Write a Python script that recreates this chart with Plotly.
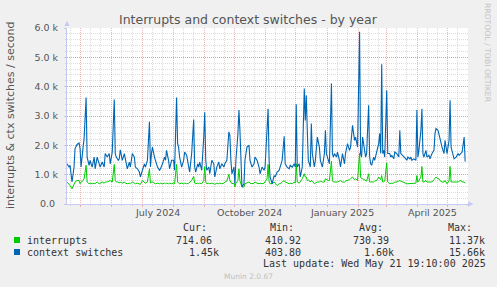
import pandas as pd
import plotly.graph_objects as go

W, H = 497, 287
ML, MR, MT, MB = 67, 29, 28, 83

# ---------------- data (values in thousands per second) ----------------
day_offsets = [
    0, 2, 3, 5, 7, 8, 10, 12, 13, 14, 16, 17, 19, 20, 22, 23, 25, 27, 28, 30,
    32, 33, 35, 37, 38, 40, 42, 43, 45, 47, 48, 49, 51, 52, 53, 55, 57, 58, 60, 62,
    63, 65, 67, 68, 70, 72, 73, 75, 77, 78, 80, 82, 83, 84, 85, 87, 88, 90, 92, 93,
    95, 97, 98,
    99, 101, 102, 104, 106, 107, 109, 110, 111, 112, 114, 116, 117, 119, 121, 122, 124, 126, 127, 128,
    130, 131, 132, 134, 136, 137, 138, 139, 141, 142, 144, 146, 147, 149, 151, 152, 154, 156, 157, 159,
    161, 162, 163, 164, 166, 167, 168, 170, 171, 172, 174, 176, 177, 179, 181, 182, 184, 186, 187, 189,
    191, 192, 194, 196, 197, 199, 200, 201, 202, 204, 206, 207, 209, 211, 212, 214, 216, 217, 219, 221,
    222, 224, 226, 227, 228, 229, 231, 232, 234, 236, 237, 238, 239, 240, 242, 243, 244, 246, 247, 249,
    251, 252, 254, 256, 257, 258, 260, 261, 263, 264, 265, 266, 268, 269, 271, 272, 274, 276, 277, 279,
    281, 282, 284, 286, 287, 289, 291, 292, 293, 294, 296, 297,
    298, 300, 301, 302, 303, 305, 306, 308, 310, 311, 312, 313, 314, 315, 316, 318, 319, 321, 322, 323,
    325, 326, 328, 330, 331, 332, 334, 335, 337, 338, 339, 341, 342, 343, 345, 347, 348, 349, 350, 352,
    353, 354, 355, 357, 358, 360, 361, 363, 365, 366, 367, 369, 370, 371, 373, 375, 376, 378, 380, 381,
    382, 384, 385, 387, 389, 390, 392, 393, 395, 396,
]

context_switches_k = [
    1.37, 1.26, 1.32, 0.75, 1.26, 1.89, 2.03, 2.08, 1.89, 1.26, 1.94, 2.23, 3.63, 1.60, 1.32, 1.49, 1.26, 1.60, 1.20, 1.60,
    1.37, 1.26, 1.43, 1.26, 1.72, 1.60, 1.72, 1.37, 1.77, 3.56, 1.72, 1.60, 1.49, 1.54, 1.85, 1.49, 1.72, 1.49, 1.20, 1.43,
    1.26, 1.72, 1.60, 1.26, 1.20, 1.09, 0.92, 1.15, 1.37, 1.26, 1.49, 2.80, 1.26, 1.72, 1.94, 1.60, 1.49, 1.26, 1.15, 1.20,
    1.37, 1.60, 1.49,
    1.83, 1.49, 1.20, 1.49, 1.49, 1.15, 3.63, 2.06, 1.94, 1.60, 1.26, 1.49, 1.77, 1.66, 1.20, 1.09, 1.72, 2.88, 1.26, 1.09,
    1.37, 1.26, 1.43, 1.15, 2.28, 3.13, 1.49, 1.15, 1.26, 1.03, 1.49, 1.37, 0.92, 1.26, 1.43, 1.20, 1.37, 1.26, 1.37, 1.49,
    2.46, 2.34, 1.49, 1.03, 1.26, 0.69, 1.49, 2.40, 3.20, 2.51, 0.58, 0.69, 1.49, 1.94, 2.00, 1.49, 1.26, 1.37, 1.60, 1.49,
    1.26, 1.03, 1.26, 1.15, 1.26, 2.34, 3.25, 1.49, 0.92, 0.69, 0.97, 0.92, 1.09, 1.15, 1.26, 1.49, 2.31, 1.37, 1.26, 1.20,
    1.32, 1.26, 1.37, 1.26, 3.40, 1.26, 1.37, 0.92, 1.26, 3.94, 2.85, 3.71, 2.51, 1.49, 1.26, 2.74, 1.72, 1.26, 1.49, 2.28,
    1.94, 1.49, 1.26, 1.72, 2.51, 1.72, 1.49, 1.37, 4.11, 1.72, 1.60, 1.72, 1.60, 1.77, 1.49, 1.26, 1.72, 1.37, 1.72, 2.06,
    1.83, 1.94, 2.68, 2.17, 2.28, 1.94, 5.87, 1.72, 1.60, 2.28, 1.83, 1.60,
    1.72, 3.37, 1.60, 1.37, 1.32, 1.60, 1.49, 1.83, 2.06, 2.40, 1.72, 4.76, 1.72, 1.83, 1.60, 3.88, 1.72, 1.72, 1.60, 1.66,
    1.54, 1.77, 1.72, 1.60, 2.51, 1.72, 1.66, 1.60, 1.54, 1.49, 1.60, 1.54, 1.60, 1.49, 1.54, 1.49, 3.20, 1.60, 1.83, 2.51,
    3.25, 1.72, 1.60, 1.83, 1.60, 1.66, 1.54, 1.72, 1.83, 2.40, 2.57, 2.51, 2.40, 2.23, 1.94, 1.72, 2.17, 1.72, 2.17, 3.54,
    1.94, 1.60, 1.54, 1.60, 1.72, 1.66, 1.72, 1.77, 2.28, 1.45,
]

interrupts_k = [
    0.75, 0.69, 0.63, 0.52, 0.69, 0.75, 0.80, 0.80, 0.69, 0.75, 0.80, 0.86, 1.32, 0.75, 0.69, 0.71, 0.69, 0.71, 0.69, 0.75,
    0.69, 0.71, 0.75, 0.71, 0.75, 0.75, 0.78, 0.80, 0.75, 1.35, 0.80, 0.75, 0.75, 0.71, 0.75, 0.71, 0.75, 0.71, 0.69, 0.71,
    0.69, 0.75, 0.71, 0.69, 0.71, 0.69, 0.67, 0.80, 0.75, 0.71, 0.75, 1.20, 0.71, 0.75, 0.75, 0.71, 0.69, 0.71, 0.69, 0.71,
    0.69, 0.71, 0.69,
    0.71, 0.69, 0.71, 0.69, 0.71, 0.69, 1.35, 0.75, 0.71, 0.69, 0.71, 0.69, 0.71, 0.69, 0.71, 0.75, 0.80, 0.94, 0.71, 0.69,
    0.71, 0.69, 0.71, 0.69, 0.80, 1.28, 0.75, 0.69, 0.71, 0.69, 0.71, 0.69, 0.67, 0.71, 0.69, 0.71, 0.69, 0.71, 0.75, 0.78,
    1.01, 0.80, 0.71, 0.69, 0.71, 0.58, 0.71, 0.80, 1.20, 0.80, 0.58, 0.58, 0.69, 0.71, 0.75, 0.71, 0.69, 0.71, 0.75, 0.71,
    0.69, 0.71, 0.69, 0.71, 0.75, 0.86, 1.35, 0.75, 0.69, 0.69, 0.75, 0.71, 0.63, 0.69, 0.69, 0.75, 0.80, 0.75, 0.71, 0.69,
    0.71, 0.69, 0.75, 0.71, 1.37, 0.75, 0.71, 0.75, 0.86, 1.03, 0.92, 0.92, 0.80, 0.83, 0.75, 0.80, 0.78, 0.69, 0.71, 0.75,
    0.75, 0.78, 0.75, 0.75, 0.86, 0.83, 0.80, 0.80, 1.46, 0.80, 0.75, 0.75, 0.75, 0.75, 0.78, 0.80, 0.75, 0.75, 0.78, 0.80,
    0.83, 0.86, 0.92, 0.83, 0.86, 0.80, 1.74, 0.92, 0.86, 0.86, 0.83, 0.80,
    0.78, 1.03, 0.75, 0.75, 0.75, 0.75, 0.78, 0.80, 0.92, 0.86, 0.83, 0.97, 0.75, 0.75, 0.78, 1.40, 0.75, 0.69, 0.71, 0.71,
    0.71, 0.75, 0.75, 0.78, 0.80, 0.78, 0.75, 0.71, 0.69, 0.69, 0.69, 0.69, 0.69, 0.69, 0.71, 0.71, 0.97, 0.75, 0.80, 0.92,
    1.28, 0.75, 0.75, 0.80, 0.75, 0.75, 0.75, 0.75, 0.83, 0.89, 0.92, 0.86, 0.86, 0.80, 0.75, 0.75, 0.80, 0.69, 0.80, 1.28,
    0.75, 0.75, 0.75, 0.75, 0.75, 0.78, 0.80, 0.75, 0.75, 0.71,
]

series_names = ["interrupts", "context switches"]
series_colors = ["#00CC00", "#0066B3"]
cur_vals = ["714.06", "1.45k"]
min_vals = ["410.92", "403.80"]
avg_vals = ["730.39", "1.60k"]
max_vals = ["11.37k", "15.66k"]

y_tickvals = [0, 1, 2, 3, 4, 5, 6]
y_ticktext = ["0.0\u00a0", "1.0 k", "2.0 k", "3.0 k", "4.0 k", "5.0 k", "6.0 k"]
month_label_dates = ["2024-07-16", "2024-10-16", "2025-01-16", "2025-04-16"]
month_label_text = ["July 2024", "October 2024", "January 2025", "April 2025"]

BASE = pd.Timestamp("2024-04-17 08:00")
END = pd.Timestamp("2025-05-21 04:00")
dates = BASE + pd.to_timedelta(day_offsets, unit="D")
month_starts = pd.date_range("2024-05-01", "2025-05-01", freq="MS")
minor_dates = []
for m in pd.date_range("2024-04-01", "2025-05-01", freq="MS"):
    for d in (10, 20):
        t = m + pd.Timedelta(days=d)
        if BASE < t < END:
            minor_dates.append(t)

# ---------------- helpers: pixel -> paper ----------------
PW = W - ML - MR
PH = H - MT - MB


def fx(px):
    return (px - ML) / PW


def fy(py):
    return (H - MB - py) / PH


MGRID = "rgba(224,80,80,0.42)"
GRID = "rgba(150,150,150,0.32)"
AXIS = "#C8C8F4"
TXT = "#555555"
SANS = "DejaVu Sans"
MONO = "DejaVu Sans Mono"

fig = go.Figure()
fig.add_trace(go.Scatter(x=dates, y=interrupts_k, mode="lines", name=series_names[0],
                         line=dict(color=series_colors[0], width=1), hoverinfo="skip"))
fig.add_trace(go.Scatter(x=dates, y=context_switches_k, mode="lines", name=series_names[1],
                         line=dict(color=series_colors[1], width=1.1), hoverinfo="skip"))

fig.update_layout(
    width=W, height=H,
    margin=dict(l=ML, r=MR, t=MT, b=MB, pad=0),
    paper_bgcolor="#F0F0F0", plot_bgcolor="#FFFFFF",
    showlegend=False,
    xaxis=dict(
        type="date", range=[BASE, END], showticklabels=False,
        tickmode="array", tickvals=month_starts,
        showgrid=True, gridcolor=MGRID, griddash="1px,1px", gridwidth=1,
        ticks="outside", ticklen=2, tickcolor=MGRID,
        showline=True, linecolor=AXIS, linewidth=1, zeroline=False,
        minor=dict(tickvals=minor_dates, showgrid=True, gridcolor=GRID, griddash="1px,1px",
                   ticks="outside", ticklen=1, tickcolor=GRID),
    ),
    yaxis=dict(
        range=[0, 6], tickmode="array", tickvals=y_tickvals, ticktext=y_ticktext,
        showgrid=True, gridcolor=MGRID, griddash="1px,1px", gridwidth=1,
        ticks="outside", ticklen=2, tickcolor=GRID,
        tickfont=dict(family=SANS, size=9.5, color=TXT),
        ticklabelstandoff=4,
        showline=True, linecolor=AXIS, linewidth=1, zeroline=False,
        minor=dict(dtick=0.2, showgrid=True, gridcolor=GRID, griddash="1px,1px",
                   ticks="outside", ticklen=1, tickcolor=GRID),
    ),
)

ann = []
# title
ann.append(dict(text="Interrupts and context switches - by year", x=fx(248.5), y=fy(19.3),
                xref="paper", yref="paper", xanchor="center", yanchor="middle", showarrow=False,
                font=dict(family=SANS, size=12.5, color=TXT)))
# y axis title
ann.append(dict(text="interrupts & ctx switches / second", x=fx(10), y=fy(116),
                xref="paper", yref="paper", xanchor="center", yanchor="middle", showarrow=False,
                textangle=-90, font=dict(family=SANS, size=11, color=TXT)))
# watermark
ann.append(dict(text="RRDTOOL / TOBI OETIKER", x=fx(488), y=fy(53), xref="paper", yref="paper",
                xanchor="center", yanchor="middle", showarrow=False, textangle=90,
                font=dict(family=SANS, size=7.7, color="#C4C4C4")))
# month labels
for d, t in zip(month_label_dates, month_label_text):
    ann.append(dict(text=t, x=d, y=fy(212.5), xref="x", yref="paper", xanchor="center",
                    yanchor="middle", showarrow=False, font=dict(family=SANS, size=9.5, color=TXT)))

# legend table
def cell(text, px, py, color="#333333", size=10, family=MONO, anchor="left"):
    ann.append(dict(text=text, x=fx(px), y=fy(py), xref="paper", yref="paper", xanchor=anchor,
                    yanchor="middle", showarrow=False, borderpad=0,
                    font=dict(family=family, size=size, color=color)))

head_y = 227.3
for txt, px in zip(["Cur:", "Min:", "Avg:", "Max:"], [181.7, 269.3, 358.3, 446.7]):
    cell(txt, px, head_y)
row_y = [240.0, 252.0]
cur_x = [175.0, 187.7]
min_x = [264.0, 264.0]
avg_x = [352.3, 363.3]
max_x = [447.7, 447.7]
shapes = []
for i in range(2):
    cell(series_names[i], 26.3, row_y[i])
    cell(cur_vals[i], cur_x[i], row_y[i])
    cell(min_vals[i], min_x[i], row_y[i])
    cell(avg_vals[i], avg_x[i], row_y[i])
    cell(max_vals[i], max_x[i], row_y[i])
    shapes.append(dict(type="rect", xref="paper", yref="paper",
                       x0=fx(14), x1=fx(20), y0=fy(row_y[i] + 3), y1=fy(row_y[i] - 3),
                       fillcolor=series_colors[i], line=dict(width=0)))
cell("Last update: Wed May 21 19:10:00 2025", 261.7, 263.3)
cell("Munin 2.0.67", 248, 276, color="#C0C0C0", size=7.5, family=SANS, anchor="center")

# axis arrows
shapes.append(dict(type="path", xref="paper", yref="paper",
                   path=f"M {fx(64.3)} {fy(26)} L {fx(69.7)} {fy(26)} L {fx(67)} {fy(21)} Z",
                   fillcolor=AXIS, line=dict(width=0)))
shapes.append(dict(type="path", xref="paper", yref="paper",
                   path=f"M {fx(468)} {fy(201.3)} L {fx(468)} {fy(206.7)} L {fx(473.5)} {fy(204)} Z",
                   fillcolor=AXIS, line=dict(width=0)))

fig.update_layout(annotations=ann, shapes=shapes)
fig.write_html("out.html")
